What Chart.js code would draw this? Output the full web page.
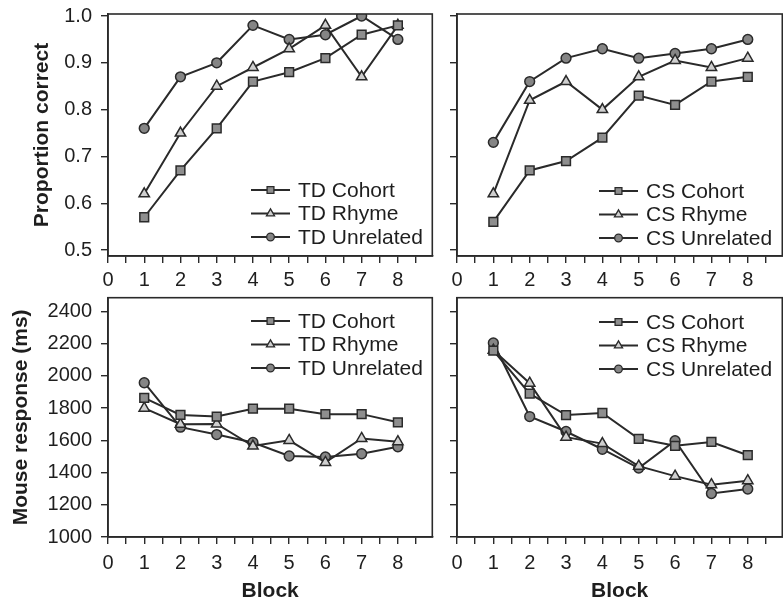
<!DOCTYPE html>
<html>
<head>
<meta charset="utf-8">
<script src="https://cdn.jsdelivr.net/npm/chart.js@4/dist/chart.umd.min.js"></script>
<style>
html,body{margin:0;padding:0;background:#fff;overflow:hidden;width:783px;height:604px;}
canvas{position:absolute;}
</style>
</head>
<body>
<canvas id="tl" width="440" height="292" style="left:0;top:0"></canvas>
<canvas id="tr" width="350" height="292" style="left:440px;top:0"></canvas>
<canvas id="bl" width="440" height="314" style="left:0;top:290px"></canvas>
<canvas id="br" width="350" height="314" style="left:440px;top:290px"></canvas>
<script>
// ---- data ----
const blocks = [1, 2, 3, 4, 5, 6, 7, 8];
const seriesNames = ['Cohort', 'Rhyme', 'Unrelated'];

const tdCohortAcc    = [0.57, 0.67, 0.76, 0.86, 0.88, 0.91, 0.96, 0.98];
const tdRhymeAcc     = [0.62, 0.75, 0.85, 0.89, 0.93, 0.98, 0.87, 0.98];
const tdUnrelatedAcc = [0.76, 0.87, 0.90, 0.98, 0.95, 0.96, 1.00, 0.95];

const csCohortAcc    = [0.56, 0.67, 0.69, 0.74, 0.83, 0.81, 0.86, 0.87];
const csRhymeAcc     = [0.62, 0.82, 0.86, 0.80, 0.87, 0.905, 0.89, 0.91];
const csUnrelatedAcc = [0.73, 0.86, 0.91, 0.93, 0.91, 0.92, 0.93, 0.95];

const tdCohortRT    = [1864, 1758, 1748, 1797, 1797, 1763, 1763, 1712];
const tdRhymeRT     = [1800, 1700, 1702, 1565, 1600, 1463, 1612, 1592];
const tdUnrelatedRT = [1958, 1682, 1636, 1587, 1503, 1497, 1517, 1560];

const csCohortRT    = [2158, 1890, 1757, 1770, 1610, 1566, 1590, 1508];
const csRhymeRT     = [2160, 1955, 1620, 1580, 1440, 1378, 1325, 1350];
const csUnrelatedRT = [2205, 1748, 1655, 1545, 1428, 1598, 1270, 1298];

const xTickValues = [0, 0.5, 1, 1.5, 2, 2.5, 3, 3.5, 4, 4.5, 5, 5.5, 6, 6.5, 7, 7.5, 8, 8.5];
const xTickLabels = ['0', '1', '2', '3', '4', '5', '6', '7', '8'];
const accTicks = [0.5, 0.6, 0.7, 0.8, 0.9, 1.0];
const rtTicks = [1000, 1200, 1400, 1600, 1800, 2000, 2200, 2400];

// ---- style ----
const FONT = "'Liberation Sans', Arial, Helvetica, sans-serif";
const INK = '#2a2a2a';
const styles = [
  {pointStyle: 'rect', fill: '#8e8e8e', radius: 6.2},
  {pointStyle: 'triangle', fill: '#cfcfcf', radius: 6.0},
  {pointStyle: 'circle', fill: '#858585', radius: 4.9}
];

function makeDatasets(prefix, arrays) {
  return arrays.map((arr, i) => ({
    label: prefix + ' ' + seriesNames[i],
    data: blocks.map((b, j) => ({x: b, y: arr[j]})),
    borderColor: INK,
    borderWidth: 2,
    pointStyle: styles[i].pointStyle,
    pointRadius: styles[i].radius,
    pointBackgroundColor: styles[i].fill,
    pointBorderColor: INK,
    pointBorderWidth: 1.5,
    tension: 0,
    fill: false
  }));
}

const framePlugin = {
  id: 'frame',
  afterDatasetsDraw(chart) {
    const a = chart.chartArea, ctx = chart.ctx;
    ctx.save();
    ctx.strokeStyle = INK;
    ctx.lineWidth = 1.6;
    ctx.strokeRect(a.left, a.top, a.right - a.left, a.bottom - a.top);
    ctx.restore();
  }
};

const legendPlugin = {
  id: 'boxLegend',
  afterDraw(chart, args, opts) {
    const ctx = chart.ctx;
    ctx.save();
    ctx.font = '21px ' + FONT;
    ctx.textBaseline = 'middle';
    ctx.textAlign = 'left';
    chart.data.datasets.forEach((ds, i) => {
      const y = opts.y + i * opts.dy;
      ctx.strokeStyle = INK;
      ctx.lineWidth = 2;
      ctx.beginPath();
      ctx.moveTo(opts.x, y);
      ctx.lineTo(opts.x + 39, y);
      ctx.stroke();
      ctx.fillStyle = ds.pointBackgroundColor;
      ctx.strokeStyle = INK;
      ctx.lineWidth = 1.3;
      Chart.helpers.drawPoint(ctx, {pointStyle: ds.pointStyle, radius: ds.pointRadius * 0.78, rotation: 0, borderWidth: 1.3}, opts.x + 19.5, y);
      ctx.fillStyle = '#1e1e1e';
      ctx.fillText(ds.label, opts.x + 47, y + 1);
    });
    ctx.restore();
  }
};

function makeChart(id, datasets, cfg) {
  const xScale = {
    type: 'linear',
    min: 0,
    max: 8.95,
    afterBuildTicks: s => { s.ticks = xTickValues.map(v => ({value: v})); },
    afterFit: s => { s.height = cfg.xHeight; s.paddingLeft = 0; s.paddingRight = 0; s.paddingTop = 0; s.paddingBottom = 0; },
    border: {display: true, color: INK, width: 1.6},
    grid: {drawOnChartArea: false, drawTicks: true, tickLength: 7, color: INK, lineWidth: 1.4},
    ticks: {
      autoSkip: false,
      maxRotation: 0,
      padding: cfg.xPad,
      color: '#1e1e1e',
      font: {family: FONT, size: 20},
      callback: v => (Number.isInteger(v) && v <= 8) ? xTickLabels[v] : ''
    },
    title: cfg.xTitle ? {display: true, text: cfg.xTitle, color: '#1e1e1e', font: {family: FONT, size: 21, weight: 'bold'}, padding: {top: 0, bottom: 0}} : {display: false}
  };
  const yScale = {
    type: 'linear',
    min: cfg.yMin,
    max: cfg.yMax,
    afterBuildTicks: s => { s.ticks = cfg.yTicks.map(v => ({value: v})); },
    afterFit: s => { s.width = cfg.yWidth; s.paddingLeft = 0; s.paddingRight = 0; s.paddingTop = 0; s.paddingBottom = 0; },
    border: {display: true, color: INK, width: 1.6},
    grid: {drawOnChartArea: false, drawTicks: true, tickLength: 7, color: INK, lineWidth: 1.4},
    ticks: {
      display: cfg.yLabels,
      padding: 9,
      color: '#1e1e1e',
      font: {family: FONT, size: 20},
      callback: cfg.yFormat
    },
    title: cfg.yTitle ? {display: true, text: cfg.yTitle, color: '#1e1e1e', font: {family: FONT, size: 21, weight: 'bold'}, padding: {top: cfg.yTitlePad, bottom: 0}} : {display: false}
  };
  return new Chart(document.getElementById(id), {
    type: 'line',
    data: {datasets},
    options: {
      responsive: false,
      animation: false,
      devicePixelRatio: 1,
      layout: {padding: cfg.padding},
      plugins: {legend: {display: false}, tooltip: {enabled: false}, boxLegend: cfg.legend},
      scales: {x: xScale, y: yScale}
    },
    plugins: [framePlugin, legendPlugin]
  });
}

const accFmt = v => v.toFixed(1);
const rtFmt = v => String(v);

makeChart('tl', makeDatasets('TD', [tdCohortAcc, tdRhymeAcc, tdUnrelatedAcc]), {
  padding: {left: 0, top: 14, right: 2, bottom: 0},
  xHeight: 36, xPad: 5, yWidth: 108, yMin: 0.4872, yMax: 1.0043, yTicks: accTicks, yLabels: true, yFormat: accFmt,
  yTitle: 'Proportion correct', yTitlePad: 30,
  legend: {x: 251, y: 190, dy: 23.5}
});
makeChart('tr', makeDatasets('CS', [csCohortAcc, csRhymeAcc, csUnrelatedAcc]), {
  padding: {left: 0, top: 14, right: 3, bottom: 0},
  xHeight: 36, xPad: 5, yWidth: 17, yMin: 0.4872, yMax: 1.0043, yTicks: accTicks, yLabels: false, yFormat: accFmt,
  legend: {x: 159, y: 191, dy: 23.5}
});
makeChart('bl', makeDatasets('TD', [tdCohortRT, tdRhymeRT, tdUnrelatedRT]), {
  padding: {left: 0, top: 5, right: 2, bottom: 0},
  xHeight: 67, xPad: 7, yWidth: 108, yMin: 1000, yMax: 2486, yTicks: rtTicks, yLabels: true, yFormat: rtFmt,
  yTitle: 'Mouse response (ms)', yTitlePad: 9, xTitle: 'Block',
  legend: {x: 251, y: 31, dy: 23.5}
});
makeChart('br', makeDatasets('CS', [csCohortRT, csRhymeRT, csUnrelatedRT]), {
  padding: {left: 0, top: 5, right: 3, bottom: 0},
  xHeight: 67, xPad: 7, yWidth: 17, yMin: 1000, yMax: 2486, yTicks: rtTicks, yLabels: false, yFormat: rtFmt,
  xTitle: 'Block',
  legend: {x: 159, y: 32, dy: 23.5}
});
</script>
</body>
</html>
